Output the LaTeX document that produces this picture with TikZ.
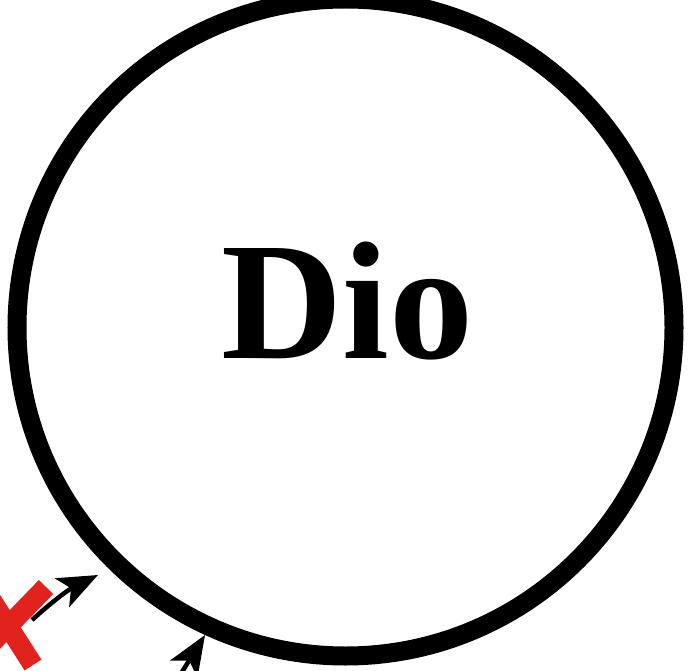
\documentclass[tikz,border=0pt]{standalone}
\usepackage{fontspec}
\setmainfont{Liberation Serif}
\usetikzlibrary{arrows.meta}
\definecolor{xred}{HTML}{E2221C}
\tikzset{
  ring/.style={circle, draw=black, line width=19pt, minimum size=657pt, inner sep=0pt},
  bigtext/.style={anchor=base, inner sep=0pt, font=\bfseries\fontsize{168}{168}\selectfont},
  pointer/.style={line width=4.5pt, -{Stealth[length=40pt,width=32pt,inset=10pt]}},
  cross/.style={xred, line width=20pt}
}
\begin{document}
\begin{tikzpicture}[x=1pt,y=-1pt]
\clip (0,0) rectangle (688,671);
\fill[white] (0,0) rectangle (688,671);
\node[ring] (dio) at (345.5,327.5) {};
\node[bigtext] (diotext) at (347,358) {Dio};
\coordinate (x1a) at (46,587);
\coordinate (x1b) at (-15,650);
\coordinate (x2a) at (-15,590);
\coordinate (x2b) at (33,665);
\draw[cross] (x2a) -- (x2b);
\draw[cross] (x1a) -- (x1b);
\coordinate (a1s) at (32,620);
\coordinate (a1e) at (98,575);
\draw[pointer] (a1s) to[bend left=8] (a1e);
\coordinate (a2s) at (172,688);
\coordinate (a2e) at (205,635);
\draw[pointer] (a2s) -- (a2e);
\end{tikzpicture}
\end{document}
